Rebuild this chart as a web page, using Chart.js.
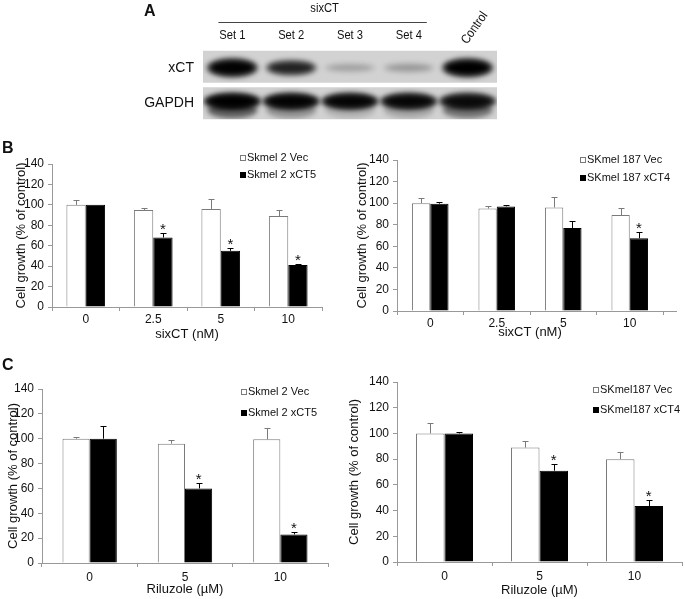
<!DOCTYPE html>
<html>
<head>
<meta charset="utf-8">
<script src="https://cdn.jsdelivr.net/npm/chart.js@4.4.0/dist/chart.umd.min.js"></script>
<style>
  body { margin: 0; background: #fff; }
  #page { position: relative; width: 685px; height: 599px; overflow: hidden; background: #fff; }
  canvas { position: absolute; }
  .tag { position: absolute; font: bold 16px "Liberation Sans", Arial, sans-serif; line-height: 16px; color: #111; }
</style>
</head>
<body>
<div id="page">
  <canvas id="blot" width="685" height="140" style="left:0;top:0"></canvas>
  <canvas id="b1" width="340" height="210" style="left:0;top:140px"></canvas>
  <canvas id="b2" width="345" height="210" style="left:340px;top:140px"></canvas>
  <canvas id="c1" width="340" height="244" style="left:0;top:355px"></canvas>
  <canvas id="c2" width="345" height="244" style="left:340px;top:355px"></canvas>
  <div class="tag" style="left:144px;top:3px">A</div>
  <div class="tag" style="left:2px;top:140px">B</div>
  <div class="tag" style="left:2px;top:357px">C</div>
</div>
<script>
// ---- data ----
var lanes = ['Set 1', 'Set 2', 'Set 3', 'Set 4', 'Control'];
var blotRows = ['xCT', 'GAPDH'];
var xctBand = [0.98, 0.72, 0.16, 0.19, 1.0];
var gapdhBand = [1.0, 0.95, 0.93, 0.9, 0.85];
var gapdhSmear = [0.55, 0.3, 0.15, 0.2, 0.45];

var sixLabels = ['0', '2.5', '5', '10'];
var rilLabels = ['0', '5', '10'];

var b1Names = ['Skmel 2 Vec', 'Skmel 2 xCT5'];
var b1Vec = [100, 95, 96, 89];
var b1VecErr = [5, 2, 10, 6];
var b1Xct = [100, 68, 55, 41];
var b1XctErr = [0, 4, 3, 1.5];
var b1Sig = [false, true, true, true];

var b2Names = ['SKmel 187 Vec', 'SKmel 187 xCT4'];
var b2Vec = [100, 95, 96, 89];
var b2VecErr = [5, 2, 10, 6.5];
var b2Xct = [99.5, 97, 77, 67.5];
var b2XctErr = [1.5, 1.5, 6.5, 6];
var b2Sig = [false, false, false, true];

var c1Names = ['Skmel 2 Vec', 'Skmel 2 xCT5'];
var c1Vec = [100, 96, 99.5];
var c1VecErr = [1, 3, 9];
var c1Xct = [100, 60, 23];
var c1XctErr = [10.5, 4, 2];
var c1Sig = [false, true, true];

var c2Names = ['SKmel187 Vec', 'SKmel187 xCT4'];
var c2Vec = [100, 89, 80];
var c2VecErr = [8, 5, 5.5];
var c2Xct = [100, 71, 43.5];
var c2XctErr = [1, 5, 5];
var c2Sig = [false, true, true];

var FONT = '"Liberation Sans", Arial, sans-serif';
Chart.defaults.font.family = FONT;
Chart.defaults.color = '#111';

// error bars + significance stars
var errorBars = {
  id: 'errorBars',
  afterDatasetsDraw: function(chart) {
    var ctx = chart.ctx, y = chart.scales.y;
    chart.data.datasets.forEach(function(ds, di) {
      chart.getDatasetMeta(di).data.forEach(function(bar, i) {
        var top = y.getPixelForValue(ds.data[i] + ds.err[i]);
        var x = Math.round(bar.x) + 0.5;
        ctx.save();
        ctx.strokeStyle = ds.borderColor;
        ctx.lineWidth = 1;
        if (ds.err[i] > 0) {
          ctx.beginPath();
          ctx.moveTo(x, bar.y);
          ctx.lineTo(x, Math.round(top) + 0.5);
          ctx.moveTo(x - 3, Math.round(top) + 0.5);
          ctx.lineTo(x + 3, Math.round(top) + 0.5);
          ctx.stroke();
        }
        if (ds.sig && ds.sig[i]) {
          ctx.fillStyle = '#111';
          ctx.font = '15px ' + FONT;
          ctx.textAlign = 'center';
          ctx.textBaseline = 'alphabetic';
          ctx.fillText('*', bar.x, top + 1);
        }
        ctx.restore();
      });
    });
  }
};

// small box legend inside the plot, plus optional x-axis tail
var boxLegend = {
  id: 'boxLegend',
  afterDraw: function(chart, args, o) {
    var ctx = chart.ctx, a = chart.chartArea;
    ctx.save();
    if (o.tail) {
      ctx.strokeStyle = '#999';
      ctx.lineWidth = 1;
      ctx.beginPath();
      ctx.moveTo(a.right, Math.round(a.bottom) + 0.5);
      ctx.lineTo(a.right + o.tail, Math.round(a.bottom) + 0.5);
      ctx.stroke();
    }
    chart.data.datasets.forEach(function(ds, i) {
      var cy = o.y + i * o.gap;
      ctx.fillStyle = ds.backgroundColor;
      ctx.fillRect(o.x, Math.round(cy - 3), 6, 6);
      ctx.strokeStyle = ds.borderColor;
      ctx.lineWidth = 1;
      ctx.strokeRect(o.x + 0.5, Math.round(cy - 3) + 0.5, 5, 5);
      ctx.fillStyle = '#111';
      ctx.font = '11px ' + FONT;
      ctx.textBaseline = 'middle';
      ctx.fillText(ds.label, o.x + 7, cy);
    });
    ctx.restore();
  }
};

function growthChart(id, labels, names, vec, vecErr, xct, xctErr, sig, xTitle, g) {
  return new Chart(document.getElementById(id), {
    type: 'bar',
    data: {
      labels: labels,
      datasets: [
        { label: names[0], data: vec, err: vecErr, backgroundColor: '#ffffff', borderColor: '#7a7a7a',
          borderWidth: 1, categoryPercentage: g.cat, barPercentage: 1 },
        { label: names[1], data: xct, err: xctErr, sig: sig, backgroundColor: '#000000', borderColor: '#000000',
          borderWidth: 1, categoryPercentage: g.cat, barPercentage: 1 }
      ]
    },
    options: {
      responsive: false,
      animation: false,
      devicePixelRatio: 1,
      layout: { padding: { top: g.top, right: g.right, left: g.left, bottom: 0 } },
      plugins: {
        legend: { display: false },
        tooltip: { enabled: false },
        boxLegend: { x: g.lx, y: g.ly, gap: g.lgap, tail: g.tail || 0 }
      },
      scales: {
        x: {
          grid: { offset: true, drawOnChartArea: false, tickLength: 4, tickColor: '#999' },
          border: { color: '#999' },
          ticks: { font: { size: 12 }, color: '#111', padding: g.xtp },
          title: { display: true, text: xTitle, font: { size: 13 }, color: '#111', padding: { top: 0, bottom: g.xtt } },
          afterFit: function(s) { s.height = g.xh; }
        },
        y: {
          min: 0, max: 140,
          grid: { drawOnChartArea: false, tickLength: 4, tickColor: '#999' },
          border: { color: '#999' },
          ticks: { stepSize: 20, font: { size: 12 }, color: '#111', padding: 4 },
          title: { display: true, text: 'Cell growth (% of control)', font: { size: 13 }, color: '#111',
                   padding: { top: 0, bottom: 0 } },
          afterFit: function(s) { s.width = g.axis - g.left; }
        }
      }
    },
    plugins: [errorBars, boxLegend]
  });
}

growthChart('b1', sixLabels, b1Names, b1Vec, b1VecErr, b1Xct, b1XctErr, b1Sig, 'sixCT (nM)',
  { cat: 0.573, top: 24, right: 18, left: 14, axis: 52, xh: 43, xtt: 8, xtp: 1, lx: 240, ly: 18.3, lgap: 16.7 });
growthChart('b2', sixLabels, b2Names, b2Vec, b2VecErr, b2Xct, b2XctErr, b2Sig, 'sixCT (nM)',
  { cat: 0.55, top: 20, right: 22, left: 15, axis: 57, xh: 39, xtt: 9.5, xtp: 1, lx: 240, ly: 19.7, lgap: 18.6, tail: 14 });
growthChart('c1', rilLabels, c1Names, c1Vec, c1VecErr, c1Xct, c1XctErr, c1Sig, 'Riluzole (\u00b5M)',
  { cat: 0.57, top: 34, right: 12, left: 5.5, axis: 42, xh: 36, xtt: 2, xtp: 3, lx: 241, ly: 37.3, lgap: 21 });
growthChart('c2', rilLabels, c2Names, c2Vec, c2VecErr, c2Xct, c2XctErr, c2Sig, 'Riluzole (\u00b5M)',
  { cat: 0.6, top: 27, right: 3, left: 7, axis: 57, xh: 37, xtt: 1, xtp: 3, lx: 253, ly: 35, lgap: 20 });

// condensed text, like the narrow face used on the blot
function narrowText(ctx, text, x, y, rot) {
  ctx.save();
  ctx.translate(x, y);
  if (rot) ctx.rotate(rot);
  ctx.scale(0.86, 1);
  ctx.fillText(text, 0, 0);
  ctx.restore();
}

// western blot, panel A
var blotPlugin = {
  id: 'blot',
  beforeDatasetsDraw: function(chart) {
    var ctx = chart.ctx, a = chart.chartArea;
    chart.data.datasets.forEach(function(ds, di) {
      var pts = chart.getDatasetMeta(di).data;
      var cy = pts[0].y, top = di === 0 ? cy - 17 : cy - 16, h = 32;
      ctx.save();
      ctx.fillStyle = '#d2d2d2';
      ctx.fillRect(a.left, top, a.right - a.left, h);
      ctx.beginPath();
      ctx.rect(a.left, top, a.right - a.left, h);
      ctx.clip();
      ctx.filter = 'blur(2.5px)';
      pts.forEach(function(p, i) {
        var v = ds.data[i].v;
        if (di === 0) {
          ctx.fillStyle = 'rgba(0,0,0,' + (v * 0.6) + ')';
          ctx.beginPath(); ctx.ellipse(p.x, cy, 26, 4 + 6 * v, 0, 0, Math.PI * 2); ctx.fill();
          ctx.fillStyle = 'rgba(0,0,0,' + v + ')';
          ctx.beginPath(); ctx.ellipse(p.x, cy, 22, 2 + 5 * v, 0, 0, Math.PI * 2); ctx.fill();
        } else {
          ctx.fillStyle = 'rgba(0,0,0,' + ds.data[i].s + ')';
          ctx.beginPath(); ctx.ellipse(p.x, cy + 7, 25, 8, 0, 0, Math.PI * 2); ctx.fill();
          ctx.fillStyle = 'rgba(0,0,0,' + (v * 0.75) + ')';
          ctx.beginPath(); ctx.ellipse(p.x, cy - 2, 29, 9, 0, 0, Math.PI * 2); ctx.fill();
          ctx.fillStyle = 'rgba(0,0,0,' + v + ')';
          ctx.beginPath(); ctx.ellipse(p.x, cy - 2, 25, 6, 0, 0, Math.PI * 2); ctx.fill();
        }
      });
      ctx.restore();
    });
  },
  afterDraw: function(chart) {
    var ctx = chart.ctx, x = chart.scales.x;
    ctx.save();
    ctx.fillStyle = '#111';
    ctx.font = '13px ' + FONT;
    ctx.textAlign = 'center';
    ctx.textBaseline = 'middle';
    for (var i = 0; i < 4; i++) narrowText(ctx, lanes[i], x.getPixelForValue(i), 35);
    var x0 = x.getPixelForValue(0), x3 = x.getPixelForValue(3);
    narrowText(ctx, 'sixCT', (x0 + x3) / 2 + 4, 8);
    ctx.strokeStyle = '#444';
    ctx.lineWidth = 1;
    ctx.beginPath();
    ctx.moveTo(x0 - 14, 22.5);
    ctx.lineTo(x3 + 18, 22.5);
    ctx.stroke();
    narrowText(ctx, lanes[4], x.getPixelForValue(4) + 7, 28, -55 * Math.PI / 180);
    ctx.restore();
  }
};

new Chart(document.getElementById('blot'), {
  type: 'scatter',
  data: {
    datasets: [
      { label: blotRows[0], pointRadius: 0,
        data: lanes.map(function(l, i) { return { x: l, y: blotRows[0], v: xctBand[i] }; }) },
      { label: blotRows[1], pointRadius: 0,
        data: lanes.map(function(l, i) { return { x: l, y: blotRows[1], v: gapdhBand[i], s: gapdhSmear[i] }; }) }
    ]
  },
  options: {
    responsive: false,
    animation: false,
    devicePixelRatio: 1,
    layout: { padding: { top: 50, right: 188, bottom: 19, left: 0 } },
    plugins: { legend: { display: false }, tooltip: { enabled: false } },
    scales: {
      x: { type: 'category', labels: lanes, offset: true, display: false },
      y: {
        type: 'category', labels: blotRows, offset: true,
        grid: { display: false, drawTicks: false },
        border: { display: false },
        ticks: { font: { size: 14 }, color: '#111', padding: 9 },
        afterFit: function(s) { s.width = 203; }
      }
    }
  },
  plugins: [blotPlugin]
});
</script>
</body>
</html>
